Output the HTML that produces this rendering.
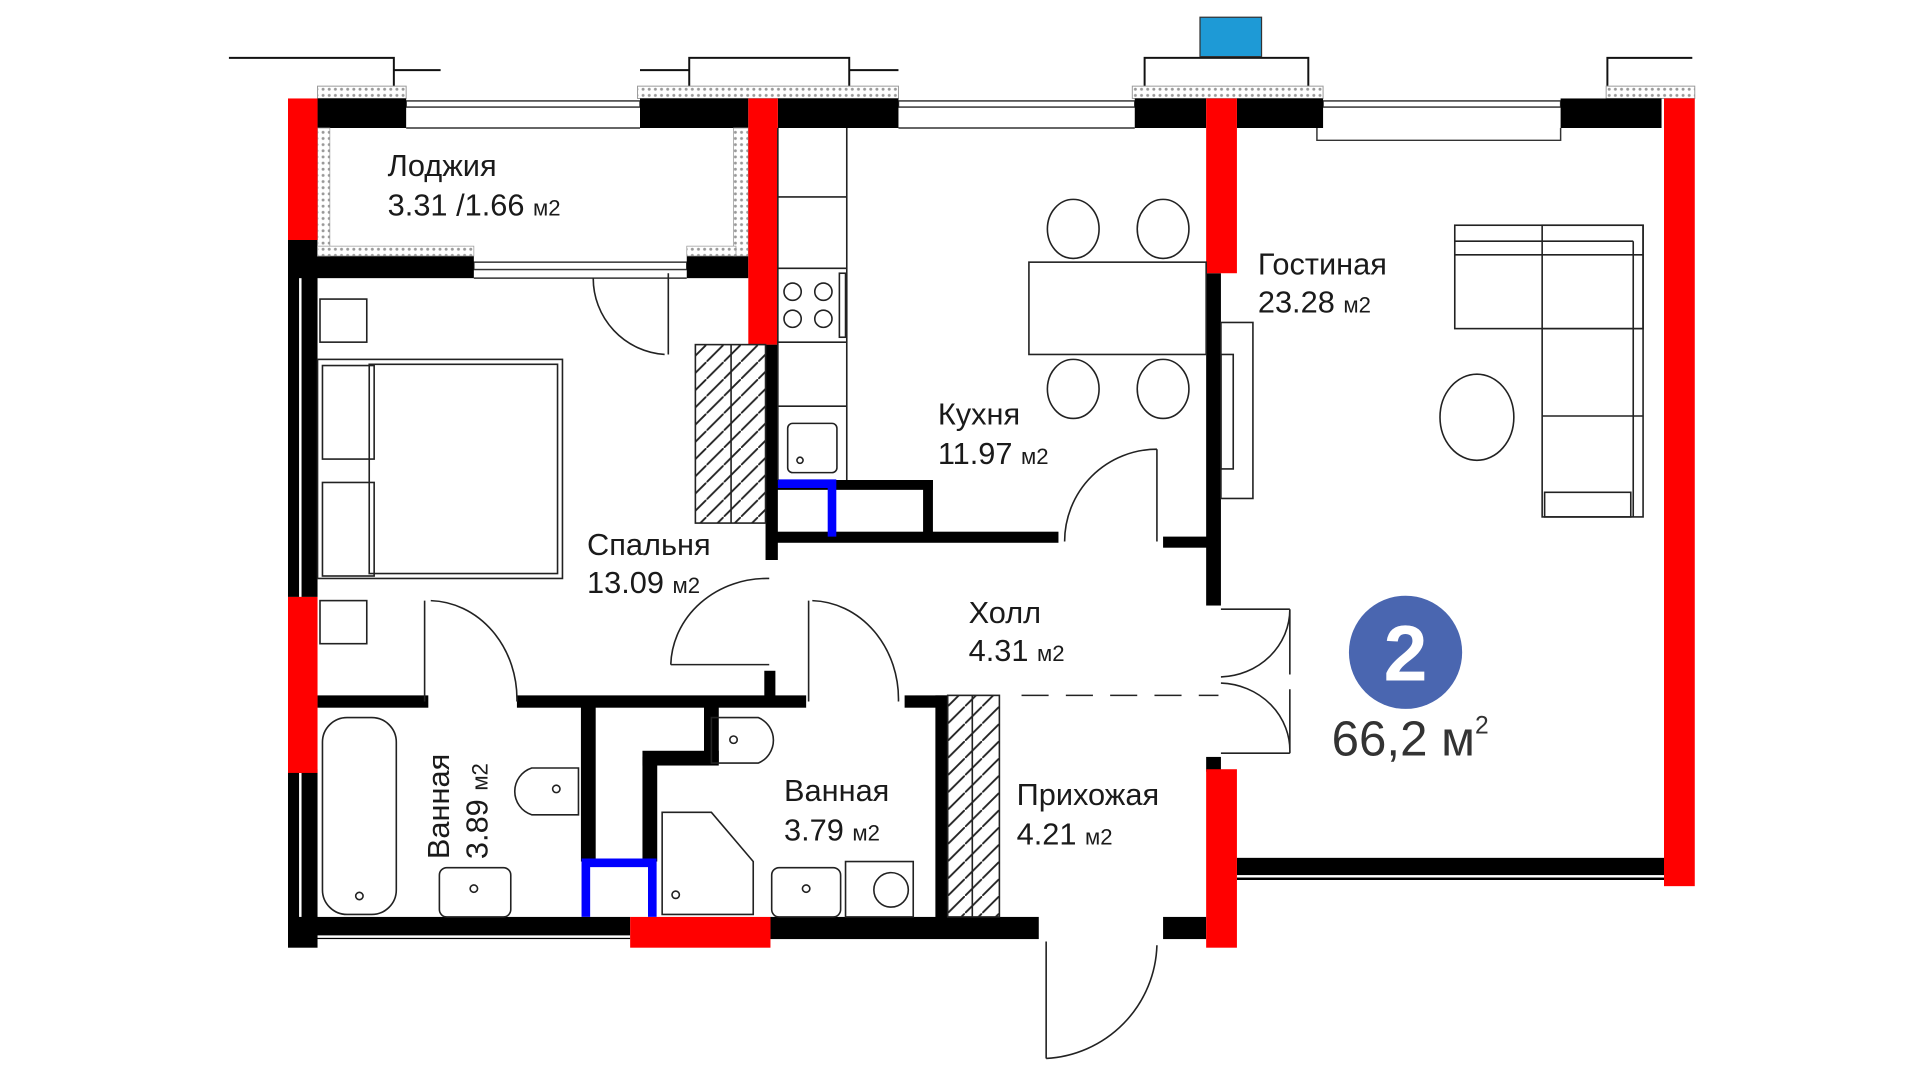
<!DOCTYPE html>
<html><head><meta charset="utf-8"><style>
html,body{margin:0;padding:0;background:#fff;width:1920px;height:1080px;overflow:hidden}
svg{display:block}
text{font-family:"Liberation Sans",sans-serif;fill:#1a1a1a}
</style></head><body>
<svg width="1920" height="1080" viewBox="0 0 1560 877.5" preserveAspectRatio="none" xmlns="http://www.w3.org/2000/svg">
<defs>
<pattern id="h" width="5" height="5" patternUnits="userSpaceOnUse"><rect width="5" height="5" fill="#fff"/><circle cx="2.5" cy="2.5" r="1.2" fill="#999"/></pattern>
<pattern id="d" width="14" height="14" patternUnits="userSpaceOnUse"><path d="M0 14 L14 0" stroke="#222" stroke-width="1.5"/></pattern>
</defs>
<g fill="none" stroke="#111" stroke-width="1.6">
<!-- top brackets -->
<polyline points="186,47 320,47 320,72"/><line x1="320" y1="57" x2="358" y2="57"/>
<rect x="560" y="47" width="130" height="26"/><line x1="520" y1="57" x2="560" y2="57"/><line x1="690" y1="57" x2="730" y2="57"/>
<rect x="930" y="47" width="133" height="26"/>
<polyline points="1375,47 1306,47 1306,72"/>
</g>
<rect x="975" y="14" width="50" height="32" fill="#1e9ad6" stroke="#333" stroke-width="1"/>
<!-- cornice hatch -->
<rect x="258" y="70" width="72" height="10" fill="url(#h)" stroke="#999" stroke-width=".8"/>
<rect x="518" y="70" width="212" height="10" fill="url(#h)" stroke="#999" stroke-width=".8"/>
<rect x="920" y="70" width="155" height="10" fill="url(#h)" stroke="#999" stroke-width=".8"/>
<rect x="1305" y="70" width="72" height="10" fill="url(#h)" stroke="#999" stroke-width=".8"/>
<!-- windows -->
<g fill="none" stroke="#333" stroke-width="1.2">
<rect x="330" y="82" width="190" height="5"/><line x1="330" y1="104" x2="520" y2="104"/>
<rect x="730" y="82" width="192" height="5"/><line x1="730" y1="104" x2="922" y2="104"/>
<rect x="1075" y="82" width="193" height="5"/><polyline points="1070,104 1070,114 1268,114 1268,104"/>
<rect x="385" y="213" width="173" height="6"/><line x1="385" y1="226" x2="558" y2="226"/>
</g>
<!-- black walls -->
<g fill="#000">
<rect x="258" y="80" width="72" height="24"/>
<rect x="520" y="80" width="88" height="24"/>
<rect x="632" y="80" width="98" height="24"/>
<rect x="922" y="80" width="58" height="24"/>
<rect x="1005" y="80" width="70" height="24"/>
<rect x="1268" y="80" width="82" height="24"/>
<rect x="234" y="195" width="24" height="290"/>
<rect x="234" y="625" width="24" height="145"/>
<rect x="244" y="208" width="141" height="18"/>
<rect x="558" y="208" width="50" height="18"/>
<rect x="234" y="745" width="278" height="18"/>
<rect x="626" y="745" width="218" height="18"/>
<rect x="945" y="745" width="35" height="18"/>
<rect x="1005" y="697" width="350" height="18"/>
<rect x="622" y="280" width="10" height="175"/>
<rect x="980" y="222" width="12" height="270"/>
<rect x="945" y="436" width="40" height="9"/>
<rect x="628" y="432" width="232" height="9"/>
<rect x="628" y="390" width="130" height="8"/>
<rect x="750" y="390" width="8" height="50"/>
<rect x="258" y="565" width="90" height="10"/>
<rect x="420" y="565" width="235" height="10"/>
<rect x="621" y="545" width="9" height="25"/>
<rect x="735" y="565" width="35" height="10"/>
<rect x="760" y="565" width="10" height="182"/>
<rect x="472" y="570" width="12" height="130"/>
<rect x="572" y="570" width="12" height="50"/>
<rect x="522" y="610" width="62" height="12"/>
<rect x="522" y="615" width="12" height="85"/>
<rect x="980" y="615" width="12" height="12"/>
</g>
<g fill="#fff"><rect x="243" y="226" width="2" height="259"/><rect x="243" y="628" width="2" height="117"/><rect x="258" y="760" width="254" height="2"/><rect x="1005" y="711" width="350" height="2"/></g>
<!-- loggia hatch -->
<rect x="258" y="104" width="10" height="104" fill="url(#h)" stroke="#999" stroke-width=".6"/>
<rect x="596" y="104" width="12" height="104" fill="url(#h)" stroke="#999" stroke-width=".6"/>
<rect x="258" y="200" width="127" height="8" fill="url(#h)" stroke="#999" stroke-width=".6"/>
<rect x="558" y="200" width="40" height="8" fill="url(#h)" stroke="#999" stroke-width=".6"/>
<!-- red walls -->
<g fill="#ff0000">
<rect x="234" y="80" width="24" height="115"/>
<rect x="234" y="485" width="24" height="143"/>
<rect x="608" y="80" width="24" height="200"/>
<rect x="980" y="80" width="25" height="142"/>
<rect x="1352" y="80" width="25" height="640"/>
<rect x="512" y="745" width="114" height="25"/>
<rect x="980" y="625" width="25" height="145"/>
</g>
<!-- blue -->
<g fill="none" stroke="#0000ff" stroke-width="7">
<polyline points="632,393 676,393 676,436"/>
<polyline points="476,745 476,701 530,701 530,745"/>
</g>
<!-- furniture -->
<g fill="none" stroke="#222" stroke-width="1.3">
<line x1="632" y1="104" x2="632" y2="390"/><line x1="688" y1="104" x2="688" y2="390"/>
<line x1="632" y1="160" x2="688" y2="160"/><line x1="632" y1="218" x2="688" y2="218"/><line x1="632" y1="278" x2="688" y2="278"/><line x1="632" y1="330" x2="688" y2="330"/>
<circle cx="644" cy="237" r="7"/><circle cx="669" cy="237" r="7"/><circle cx="644" cy="259" r="7"/><circle cx="669" cy="259" r="7"/>
<rect x="682" y="222" width="5" height="52"/>
<rect x="640" y="344" width="40" height="40" rx="4"/><circle cx="650" cy="374" r="2.5"/>
<rect x="836" y="213" width="144" height="75"/>
<ellipse cx="872" cy="186" rx="21" ry="24"/><ellipse cx="945" cy="186" rx="21" ry="24"/>
<ellipse cx="872" cy="316" rx="21" ry="24"/><ellipse cx="945" cy="316" rx="21" ry="24"/>
<rect x="992" y="262" width="26" height="143"/><rect x="992" y="288" width="10" height="93"/>
<rect x="1182" y="183" width="153" height="84"/><rect x="1253" y="183" width="82" height="237"/>
<line x1="1182" y1="196" x2="1327" y2="196"/><line x1="1182" y1="207" x2="1335" y2="207"/>
<line x1="1253" y1="267" x2="1335" y2="267"/><line x1="1253" y1="338" x2="1335" y2="338"/><line x1="1327" y1="196" x2="1327" y2="420"/>
<rect x="1255" y="400" width="70" height="20"/>
<ellipse cx="1200" cy="339" rx="30" ry="35"/>
<rect x="260" y="243" width="38" height="35"/><rect x="260" y="488" width="38" height="35"/>
<rect x="258" y="292" width="199" height="178"/><rect x="300" y="296" width="153" height="170"/>
<rect x="262" y="297" width="42" height="76"/><rect x="262" y="392" width="42" height="76"/>
<rect x="565" y="280" width="57" height="145" fill="url(#d)"/><line x1="594" y1="280" x2="594" y2="425"/>
<rect x="770" y="565" width="42" height="180" fill="url(#d)"/><line x1="790" y1="565" x2="790" y2="745"/>
<rect x="262" y="583" width="60" height="160" rx="20"/><circle cx="292" cy="728" r="3"/>
<path d="M470 624 L432 624 A20 20 0 0 0 432 662 L470 662 Z"/><circle cx="452" cy="641" r="3"/>
<rect x="357" y="705" width="58" height="40" rx="6"/><circle cx="385" cy="722" r="3"/>
<path d="M578 583 L616 583 A20 20 0 0 1 616 620 L578 620 Z"/><circle cx="596" cy="601" r="3"/>
<path d="M538 660 L578 660 L612 700 L612 743 L538 743 Z"/><circle cx="549" cy="727" r="3"/>
<rect x="627" y="705" width="56" height="40" rx="6"/><circle cx="655" cy="722" r="3"/>
<rect x="687" y="700" width="55" height="45"/><circle cx="724" cy="723" r="14"/>
</g>
<!-- doors -->
<g fill="none" stroke="#222" stroke-width="1.3">
<path d="M543 222 L543 288 M482 226 A62 62 0 0 0 540 288"/>
<path d="M345 488 L345 570 M350 488 A72 80 0 0 1 420 570"/>
<path d="M545 540 L625 540 M545 540 A78 72 0 0 1 625 470"/>
<path d="M657 488 L657 570 M660 488 A72 80 0 0 1 730 570"/>
<path d="M940 365 L940 440 M940 365 A75 75 0 0 0 865 440"/>
<path d="M1048 495 L1048 548 M992 495 L1048 495 M1048 495 A58 55 0 0 1 992 550 M1048 612 L1048 560 M992 612 L1048 612 M1048 612 A58 55 0 0 0 992 555"/>
<path d="M850 765 L850 860 M850 860 A95 95 0 0 0 940 768"/>
<line x1="830" y1="565" x2="990" y2="565" stroke-dasharray="22 14"/>
</g>
<!-- labels -->
<g font-size="25">
<text x="315" y="143">Лоджия</text><text x="315" y="175">3.31 /1.66 <tspan font-size="18">м2</tspan></text>
<text x="762" y="345">Кухня</text><text x="762" y="377">11.97 <tspan font-size="18">м2</tspan></text>
<text x="1022" y="223">Гостиная</text><text x="1022" y="254">23.28 <tspan font-size="18">м2</tspan></text>
<text x="477" y="451">Спальня</text><text x="477" y="482">13.09 <tspan font-size="18">м2</tspan></text>
<text x="787" y="506">Холл</text><text x="787" y="537">4.31 <tspan font-size="18">м2</tspan></text>
<text x="637" y="651">Ванная</text><text x="637" y="683">3.79 <tspan font-size="18">м2</tspan></text>
<text x="826" y="654">Прихожая</text><text x="826" y="686">4.21 <tspan font-size="18">м2</tspan></text>
<text transform="translate(365,698) rotate(-90)">Ванная</text>
<text transform="translate(396,698) rotate(-90)">3.89 <tspan font-size="18">м2</tspan></text>
</g>
<circle cx="1142" cy="530" r="46" fill="#4a66b0"/>
<text x="1142" y="553" font-size="64" font-weight="bold" text-anchor="middle" style="fill:#fff">2</text>
<text x="1082" y="614" font-size="40" style="fill:#333">66,2 м<tspan font-size="20" dy="-18">2</tspan></text>
</svg>
</body></html>
